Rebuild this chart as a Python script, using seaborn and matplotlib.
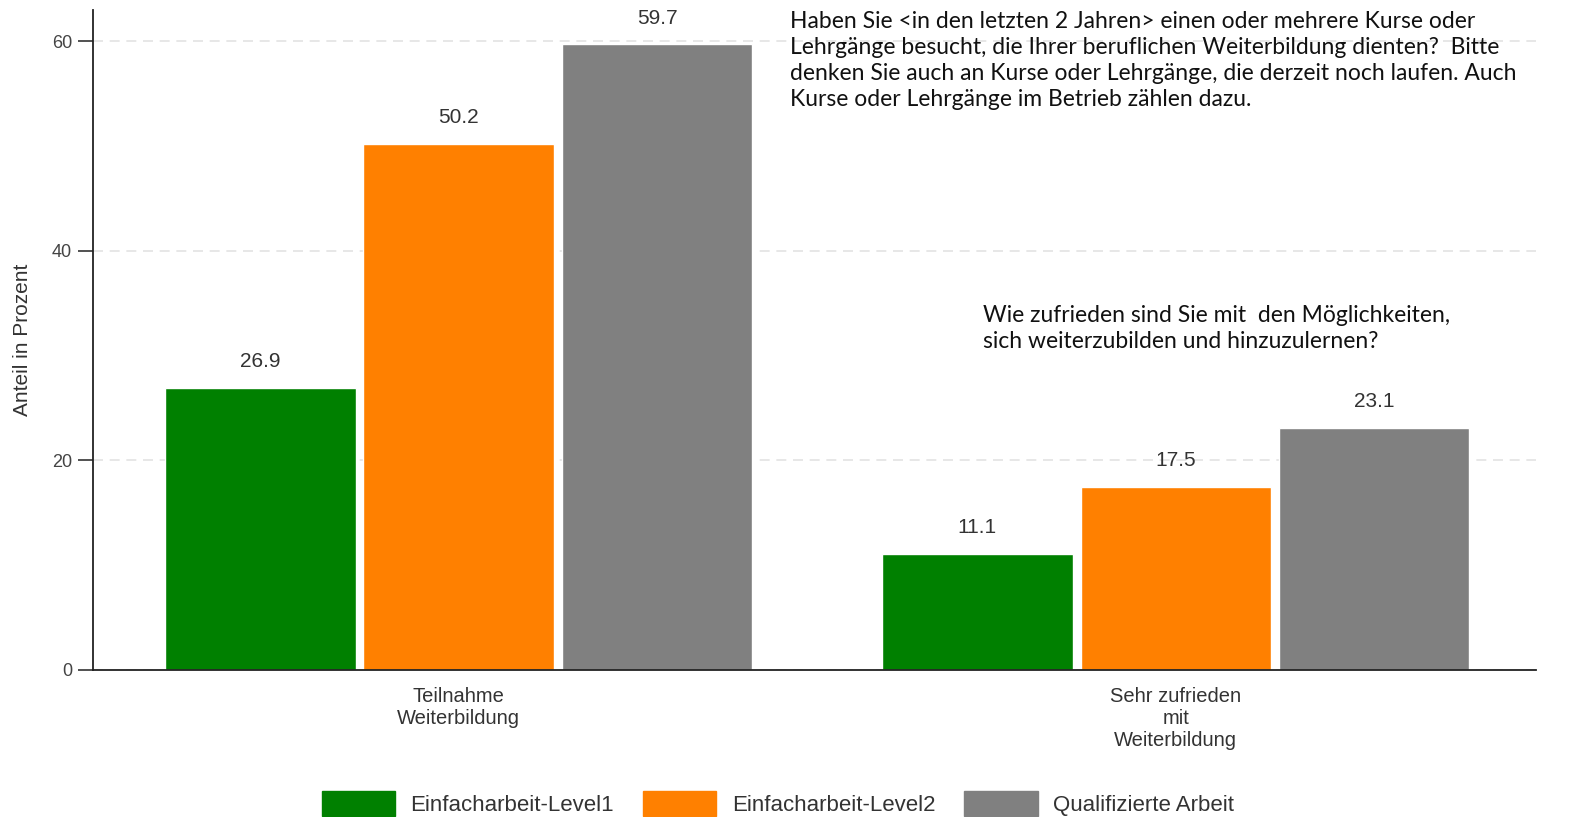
import matplotlib
matplotlib.use('Agg')
import matplotlib.pyplot as plt
import seaborn as sns
import pandas as pd

# Daten
kategorien = ['Teilnahme\nWeiterbildung', 'Sehr zufrieden\nmit\nWeiterbildung']
gruppen = ['Einfacharbeit-Level1', 'Einfacharbeit-Level2', 'Qualifizierte Arbeit']
werte_level1 = [26.9, 11.1]
werte_level2 = [50.2, 17.5]
werte_quali = [59.7, 23.1]
farben = ['#008000', '#ff8000', '#808080']

frage1 = ('Haben Sie <in den letzten 2 Jahren> einen oder mehrere Kurse oder\n'
          'Lehrgänge besucht, die Ihrer beruflichen Weiterbildung dienten?  Bitte\n'
          'denken Sie auch an Kurse oder Lehrgänge, die derzeit noch laufen. Auch\n'
          'Kurse oder Lehrgänge im Betrieb zählen dazu.')
frage2 = ('Wie zufrieden sind Sie mit  den Möglichkeiten,\n'
          'sich weiterzubilden und hinzuzulernen?')

df = pd.DataFrame({
    'kategorie': kategorien * 3,
    'gruppe': [g for g in gruppen for _ in kategorien],
    'wert': werte_level1 + werte_level2 + werte_quali,
})

sns.set_style('white')
plt.rcParams['font.family'] = ['Liberation Sans', 'DejaVu Sans']

fig = plt.figure(figsize=(15.81, 8.17), dpi=100)
ax = fig.add_axes([0.0588, 0.18, 0.913, 0.808])

ax.yaxis.grid(True, linestyle=(0, (6, 4)), color='#e3e3e3', linewidth=1.2)
ax.set_axisbelow(True)

sns.barplot(data=df, x='kategorie', y='wert', hue='gruppe', hue_order=gruppen,
            palette=farben, width=0.83, gap=0.04, saturation=1, ax=ax,
            errorbar=None)

for cont in ax.containers:
    ax.bar_label(cont, fmt='%.1f', padding=12, fontsize=15, color='#333333')

ax.set_xlim(-0.51, 1.503)
ax.set_ylim(0, 63)
ax.set_yticks([0, 20, 40, 60])
ax.set_xlabel('')
ax.set_ylabel('Anteil in Prozent', fontsize=15, color='#333333', labelpad=14)
ax.tick_params(axis='y', length=11, width=1.2, color='#333333', labelsize=13,
               labelcolor='#444444', pad=4, left=True)
ax.tick_params(axis='x', length=0, labelsize=14.5, labelcolor='#333333', pad=12)
for s in ['top', 'right']:
    ax.spines[s].set_visible(False)
for s in ['left', 'bottom']:
    ax.spines[s].set_color('#222222')
    ax.spines[s].set_linewidth(1.3)

ax.legend_.remove()
handles = [plt.Rectangle((0, 0), 1, 1, color=c) for c in farben]
fig.legend(handles, gruppen, loc='center', bbox_to_anchor=(0.492, 0.017),
           ncol=3, frameon=False, fontsize=16, handlelength=3.3,
           handleheight=1.35, handletextpad=0.7, columnspacing=1.3,
           labelcolor='#333333')

fig.text(0.4997, 0.987, frage1, fontsize=16.5, family=['Lato', 'DejaVu Sans'],
         va='top', ha='left', linespacing=1.3, color='#111111')
fig.text(0.6218, 0.627, frage2, fontsize=16.5, family=['Lato', 'DejaVu Sans'],
         va='top', ha='left', linespacing=1.3, color='#111111')

fig.savefig('out.png', dpi=100)
